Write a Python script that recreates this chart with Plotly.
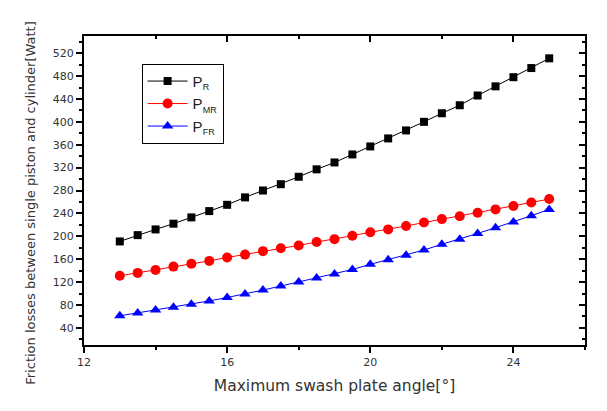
import plotly.graph_objects as go

angle = [13 + 0.5 * i for i in range(25)]
P_R = [191, 202, 212, 222, 233, 244, 255, 268, 280, 291, 304, 317, 329,
       343, 357, 371, 385, 400, 415, 429, 446, 462, 478, 494, 511]
P_MR = [131, 136, 141, 147, 152, 157, 163, 168, 174, 179, 184, 190, 195,
        201, 207, 212, 218, 224, 230, 235, 241, 247, 253, 259, 265]
P_FR = [61, 66, 71, 76, 81, 87, 93, 99, 106, 113, 120, 127, 134,
        142, 151, 159, 167, 176, 186, 195, 205, 215, 225, 236, 247]

x_range = [12, 26]
y_range = [10, 550]
y_major = [40, 80, 120, 160, 200, 240, 280, 320, 360, 400, 440, 480, 520]
y_minor = [20, 60, 100, 140, 180, 220, 260, 300, 340, 380, 420, 460, 500, 540]

fig = go.Figure()
fig.add_trace(go.Scatter(x=angle, y=P_R, mode="lines+markers",
                         name="P<sub><span style='font-size:9px'>R</span></sub>",
                         line=dict(color="black", width=1),
                         marker=dict(symbol="square", size=8, color="black")))
fig.add_trace(go.Scatter(x=angle, y=P_MR, mode="lines+markers",
                         name="P<sub><span style='font-size:9px'>MR</span></sub>",
                         line=dict(color="red", width=1),
                         marker=dict(symbol="circle", size=10, color="red")))
fig.add_trace(go.Scatter(x=angle, y=P_FR, mode="lines+markers",
                         name="P<sub><span style='font-size:9px'>FR</span></sub>",
                         line=dict(color="blue", width=1),
                         marker=dict(symbol="triangle-up", size=10, color="blue")))
fig.add_trace(go.Scatter(x=[None], y=[None], xaxis="x2", yaxis="y2",
                         showlegend=False, hoverinfo="skip"))

tickfont = dict(family="DejaVu Sans", size=11, color="#333333")

fig.update_layout(
    width=607, height=411,
    margin=dict(l=84, r=22, t=36, b=66),
    paper_bgcolor="white", plot_bgcolor="white",
    showlegend=True,
    legend=dict(x=0.115, y=0.91, xanchor="left", yanchor="top",
                bordercolor="black", borderwidth=1, bgcolor="white",
                font=dict(family="Liberation Sans, Arial", size=15, color="#222222"),
                tracegroupgap=0, itemwidth=40),
    xaxis=dict(range=x_range, dtick=4, tick0=12, showgrid=False, zeroline=False,
               showline=True, linecolor="black", linewidth=2, mirror=True,
               ticks="outside", ticklen=6, tickwidth=2, tickcolor="black",
               minor=dict(dtick=2, ticks="outside", ticklen=3, tickwidth=1.5, tickcolor="black"),
               tickfont=tickfont,
               title=dict(text="Maximum swash plate angle[°]",
                          font=dict(family="DejaVu Sans", size=15.5, color="#333333"),
                          standoff=12)),
    yaxis=dict(range=y_range, tickvals=y_major,
               showgrid=False, zeroline=False,
               showline=True, linecolor="black", linewidth=2, mirror=True,
               ticks="outside", ticklen=6, tickwidth=2, tickcolor="black",
               minor=dict(tickvals=y_minor, ticks="outside", ticklen=3, tickwidth=1.5,
                          tickcolor="black"),
               tickfont=tickfont),
    xaxis2=dict(range=x_range, overlaying="x", side="top", dtick=4, tick0=12,
                showgrid=False, zeroline=False, showticklabels=False,
                ticks="inside", ticklen=6, tickwidth=2, tickcolor="black",
                minor=dict(dtick=2, ticks="inside", ticklen=3, tickwidth=1.5, tickcolor="black")),
    yaxis2=dict(range=y_range, overlaying="y", side="right", tickvals=y_major,
                showgrid=False, zeroline=False, showticklabels=False,
                ticks="inside", ticklen=6, tickwidth=2, tickcolor="black",
                minor=dict(tickvals=y_minor, ticks="inside", ticklen=3, tickwidth=1.5,
                           tickcolor="black")),
    annotations=[dict(text="Friction losses between single piston and cylinder[Watt]",
                      xref="paper", yref="paper", x=-0.106, y=0.46,
                      xanchor="center", yanchor="middle", textangle=-90, showarrow=False,
                      font=dict(family="DejaVu Sans", size=13, color="#333333"))],
)

fig.write_html("out.html")
